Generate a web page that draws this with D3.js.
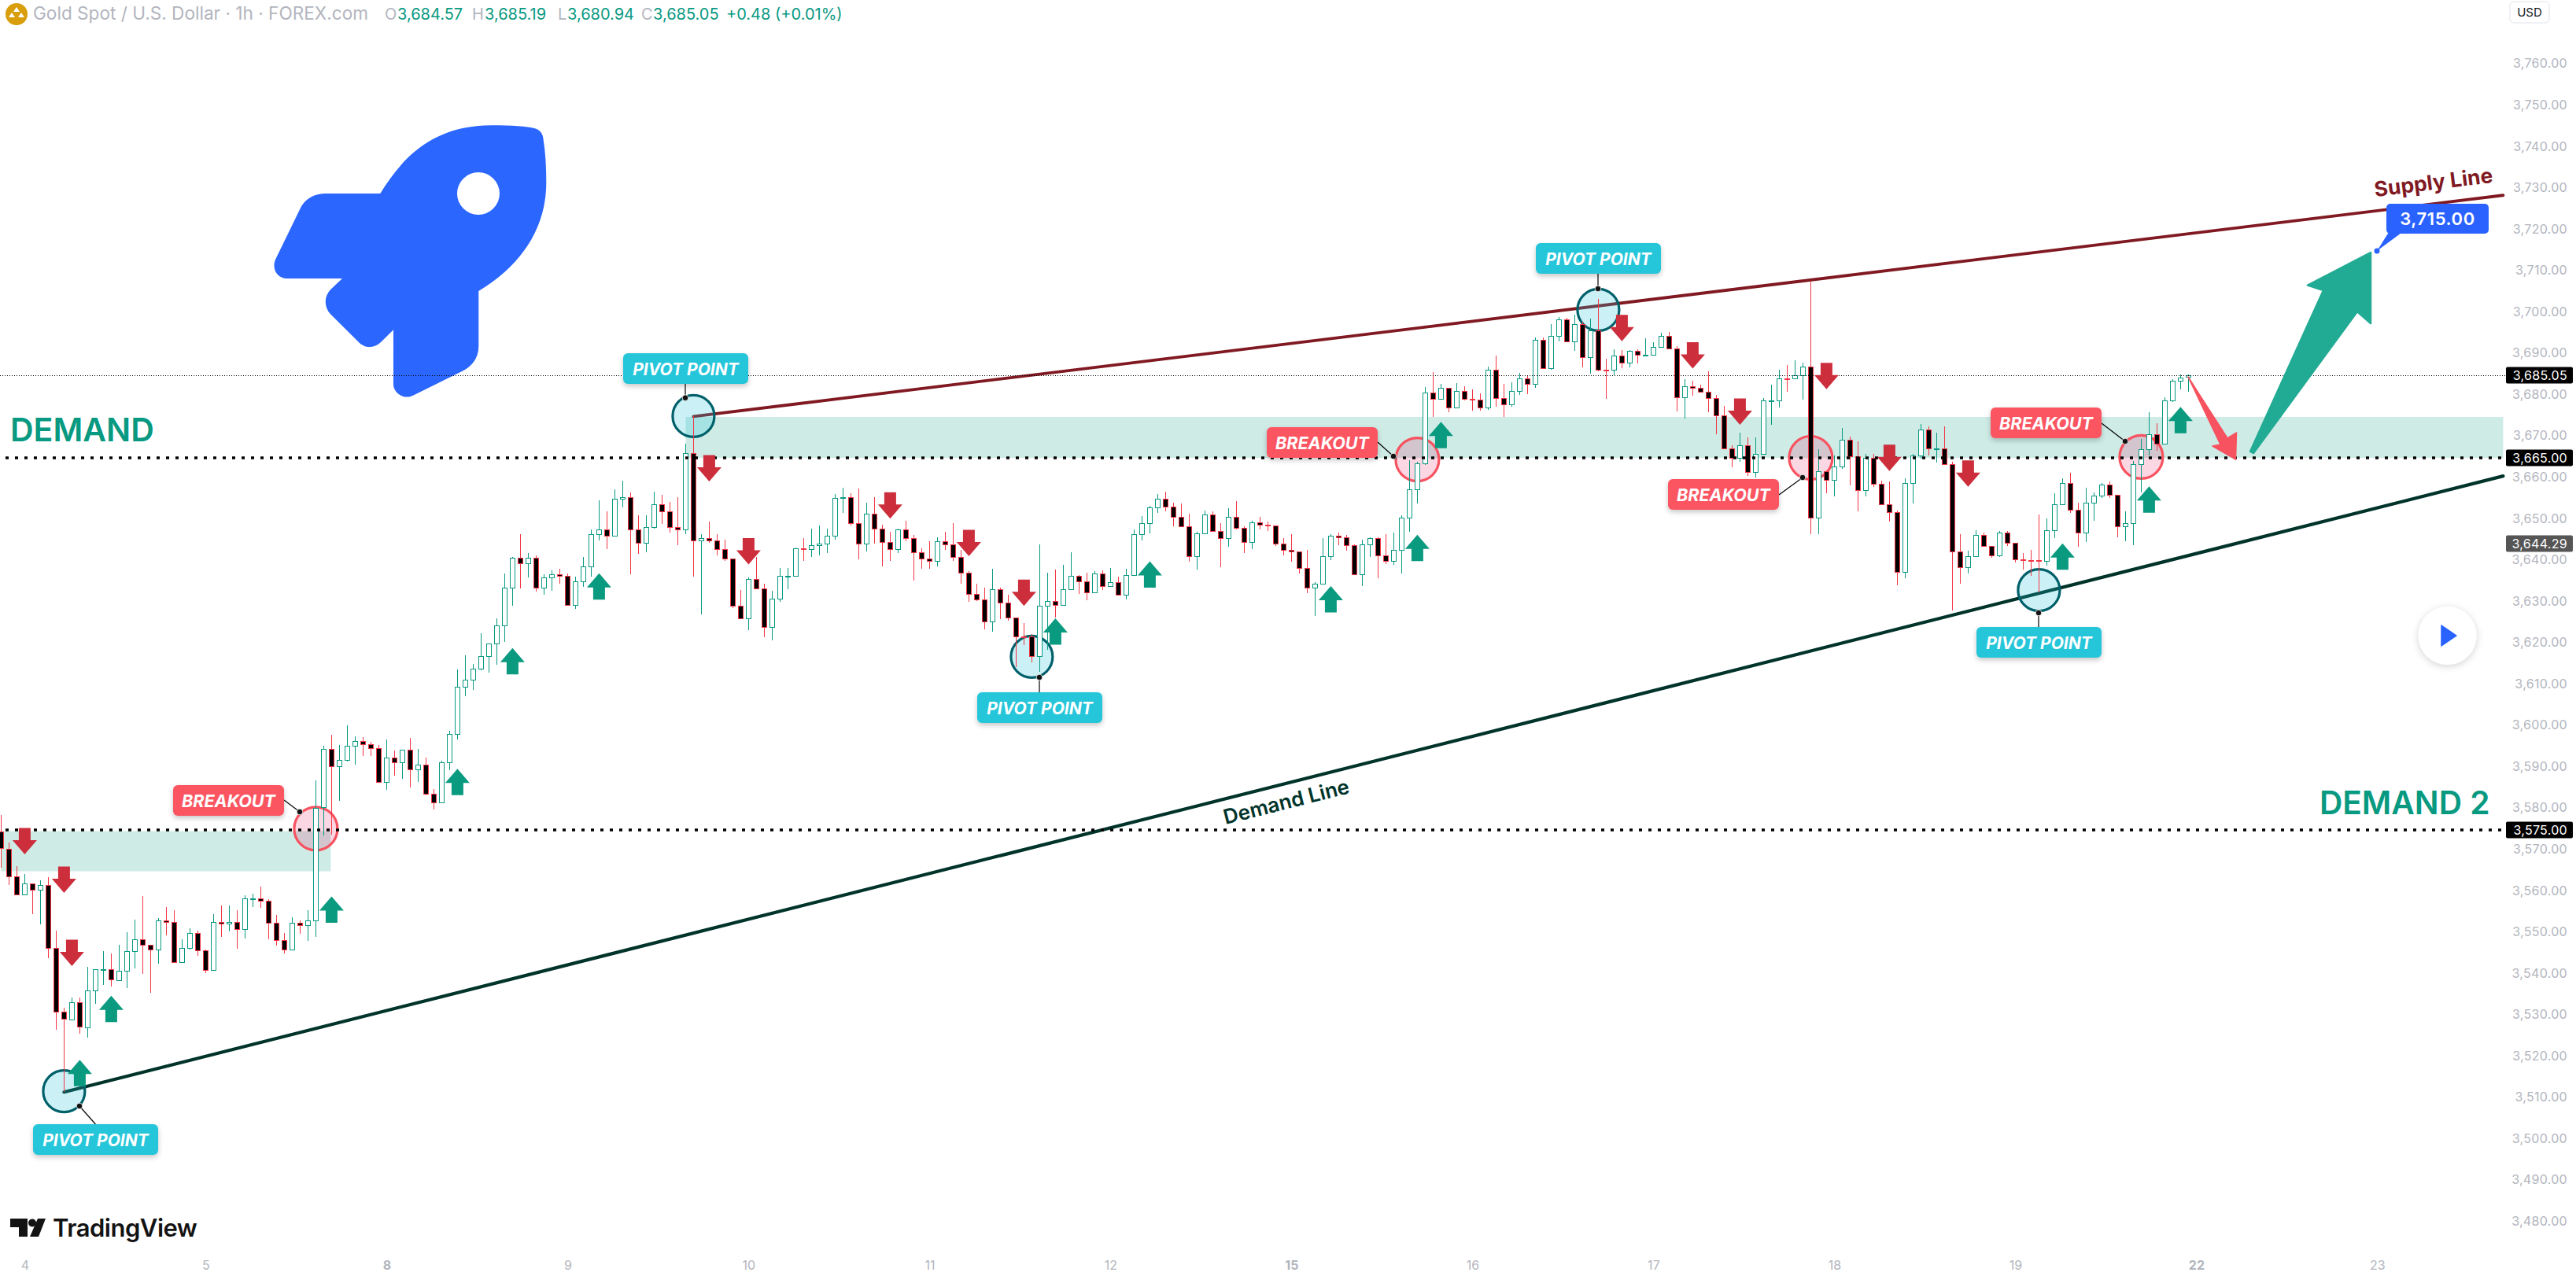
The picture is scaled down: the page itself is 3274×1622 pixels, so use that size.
<!DOCTYPE html>
<html><head><meta charset="utf-8">
<style>html,body{margin:0;padding:0;background:#fff;overflow:hidden}svg{display:block;font-family:Inter,"Noto Sans",sans-serif}</style>
<script src="https://cdn.jsdelivr.net/npm/d3@7"></script></head>
<body><svg id="c" width="3274" height="1622"></svg>
<script>
const opens=[3574.6,3570.5,3563.7,3559.4,3562.0,3560.5,3561.6,3546.4,3531.0,3529.2,
3533.3,3527.3,3536.2,3541.2,3541.3,3538.7,3540.9,3545.7,3548.5,3547.2,
3546.1,3553.1,3552.7,3543.0,3546.4,3550.0,3545.9,3541.1,3552.7,3552.3,
3552.7,3551.0,3558.4,3558.5,3557.8,3552.5,3548.3,3546.1,3552.5,3551.9,
3553.2,3580.5,3594.6,3590.4,3592.0,3595.3,3596.5,3595.7,3594.8,3586.6,
3592.5,3591.3,3594.4,3589.6,3590.8,3583.7,3581.6,3591.3,3598.2,3609.6,
3611.3,3614.0,3617.0,3620.1,3624.4,3633.6,3640.8,3639.5,3640.8,3633.6,
3636.0,3636.8,3636.4,3629.5,3635.1,3638.7,3646.5,3647.6,3646.1,3655.1,
3655.4,3647.6,3644.4,3648.2,3653.7,3652.0,3648.2,3647.6,3666.1,3645.1,
3645.6,3645.1,3642.9,3640.6,3629.3,3626.2,3635.7,3633.5,3624.0,3630.9,
3636.4,3636.5,3643.1,3643.0,3643.8,3644.2,3646.1,3655.2,3655.4,3649.3,
3644.2,3651.4,3647.8,3644.6,3642.9,3647.6,3645.5,3642.1,3640.6,3640.0,
3644.9,3644.0,3641.0,3637.3,3632.0,3630.7,3625.4,3633.3,3629.9,3626.3,
3621.9,3621.9,3617.0,3629.2,3630.3,3629.5,3633.2,3636.4,3635.2,3632.4,
3637.1,3634.0,3634.9,3631.8,3636.6,3646.5,3649.2,3653.0,3655.1,3653.2,
3650.7,3648.4,3641.2,3646.7,3651.3,3647.3,3645.6,3650.7,3648.0,3644.6,
3649.4,3648.8,3648.6,3644.2,3642.7,3642.3,3638.3,3633.6,3634.5,3641.2,
3646.1,3645.7,3643.8,3636.8,3644.0,3645.6,3641.4,3640.0,3642.7,3650.5,
3657.3,3663.6,3680.7,3679.2,3681.9,3677.1,3681.1,3679.2,3679.0,3677.1,
3686.4,3679.4,3677.9,3681.1,3684.3,3682.8,3693.5,3686.6,3694.4,3698.4,
3693.2,3697.3,3689.3,3695.8,3686.4,3686.4,3689.7,3688.0,3690.8,3689.8,
3689.9,3691.9,3694.4,3691.4,3679.6,3682.3,3681.9,3680.9,3679.4,3675.2,
3667.2,3665.0,3668.0,3661.5,3666.0,3678.8,3678.9,3684.3,3684.3,3684.9,
3687.0,3650.5,3661.7,3659.6,3663.0,3669.3,3665.3,3657.2,3665.0,3658.7,
3653.7,3651.8,3637.5,3659.0,3665.5,3671.8,3667.1,3667.2,3663.4,3642.3,
3638.5,3641.3,3646.4,3643.6,3641.5,3646.9,3644.4,3640.4,3640.2,3640.2,
3640.0,3647.4,3653.7,3659.0,3652.5,3647.0,3654.1,3655.8,3658.6,3656.0,
3648.4,3649.3,3663.4,3667.0,3670.8,3668.4,3678.8,3683.7,3684.57];
const highs=[3578.7,3571.9,3566.3,3564.4,3562.0,3562.8,3563.6,3550.7,3532.0,3534.5,
3534.5,3541.9,3541.3,3545.7,3545.1,3547.2,3550.2,3553.4,3559.1,3547.2,
3553.6,3556.4,3555.6,3548.5,3551.2,3550.7,3546.1,3554.6,3556.8,3556.8,
3555.6,3559.2,3559.5,3561.3,3558.3,3554.5,3550.1,3553.9,3553.2,3555.5,
3587.0,3595.3,3598.1,3595.6,3600.3,3597.7,3597.5,3596.3,3595.6,3596.9,
3594.3,3594.4,3597.3,3594.6,3592.5,3584.9,3591.7,3598.9,3613.9,3617.3,
3615.2,3622.6,3620.1,3626.2,3637.1,3641.0,3646.6,3642.0,3641.4,3636.9,
3637.8,3638.2,3637.1,3636.3,3641.1,3647.7,3654.8,3652.1,3657.4,3659.5,
3656.7,3651.1,3651.1,3656.8,3656.1,3654.4,3655.5,3668.4,3675.0,3646.5,
3649.6,3646.5,3645.2,3640.6,3633.0,3636.1,3641.0,3634.5,3632.8,3638.4,
3638.4,3643.3,3645.6,3647.9,3648.6,3647.9,3656.2,3657.8,3656.4,3657.6,
3654.1,3655.5,3648.8,3647.1,3647.8,3649.8,3646.3,3643.1,3644.8,3645.8,
3647.2,3649.2,3642.7,3637.6,3634.5,3633.6,3638.1,3633.6,3631.9,3626.3,
3625.0,3622.4,3644.1,3637.2,3638.0,3639.1,3642.2,3636.6,3637.2,3637.6,
3637.8,3638.4,3636.3,3638.1,3647.6,3650.9,3653.4,3656.3,3656.8,3654.1,
3653.9,3651.5,3647.1,3652.3,3652.0,3649.2,3652.8,3654.6,3648.4,3649.8,
3650.8,3649.6,3648.6,3645.6,3646.6,3642.3,3642.8,3635.0,3645.6,3646.6,
3647.0,3646.4,3644.0,3645.2,3645.8,3645.8,3646.6,3647.0,3651.1,3664.4,
3664.0,3682.1,3685.7,3682.9,3682.0,3683.1,3682.3,3681.5,3680.6,3687.1,
3689.7,3682.9,3683.2,3685.5,3684.7,3694.2,3694.2,3697.3,3699.0,3698.8,
3699.6,3698.0,3698.7,3703.4,3689.0,3691.2,3691.0,3691.0,3691.2,3693.9,
3693.0,3695.2,3695.4,3692.1,3684.0,3683.7,3682.7,3686.0,3680.2,3677.6,
3668.0,3671.0,3670.0,3670.0,3679.5,3682.7,3686.3,3687.5,3688.6,3688.0,
3707.8,3667.1,3661.7,3665.6,3672.2,3670.2,3669.0,3666.0,3666.0,3659.5,
3659.3,3652.2,3660.0,3665.9,3673.1,3672.6,3671.1,3672.6,3664.1,3646.5,
3642.5,3647.5,3646.9,3643.6,3647.3,3647.3,3644.4,3641.9,3642.8,3651.3,
3650.3,3656.4,3660.0,3661.3,3654.2,3657.7,3656.7,3659.0,3659.2,3656.0,
3652.0,3664.3,3669.5,3676.0,3673.3,3679.6,3684.0,3685.1,3685.19];
const lows=[3565.8,3561.6,3559.2,3559.4,3554.6,3552.2,3544.0,3526.7,3511.6,3529.0,
3525.8,3524.7,3533.0,3537.6,3537.1,3538.5,3536.8,3541.6,3540.1,3535.6,
3542.6,3549.6,3543.0,3543.0,3546.1,3544.6,3540.4,3541.1,3549.1,3550.4,
3546.3,3548.8,3556.4,3556.1,3548.6,3547.0,3545.2,3546.1,3549.8,3548.1,
3549.1,3573.6,3573.8,3582.1,3591.5,3590.7,3592.8,3592.9,3586.6,3584.8,
3588.2,3587.3,3585.2,3586.7,3583.3,3579.9,3581.4,3589.5,3596.8,3607.4,
3608.9,3613.7,3613.1,3615.0,3620.5,3629.3,3633.4,3636.1,3632.7,3631.9,
3632.9,3634.6,3629.3,3628.5,3633.8,3636.3,3645.0,3643.0,3646.1,3653.0,
3636.9,3641.8,3642.2,3647.9,3649.0,3647.0,3643.9,3646.5,3636.3,3627.1,
3644.5,3641.4,3640.1,3628.7,3626.2,3623.4,3633.5,3621.6,3620.8,3630.2,
3633.2,3636.5,3640.1,3641.0,3641.4,3642.0,3645.2,3651.7,3648.6,3640.4,
3642.3,3644.2,3638.7,3640.1,3642.0,3644.8,3635.3,3638.1,3638.1,3638.7,
3642.7,3640.1,3634.5,3630.2,3630.3,3623.5,3622.9,3625.9,3625.7,3614.3,
3619.8,3615.5,3613.2,3618.6,3626.3,3629.5,3633.2,3632.1,3630.6,3632.4,
3633.0,3634.0,3631.8,3630.7,3636.6,3645.0,3646.8,3651.7,3652.1,3648.5,
3648.2,3639.9,3638.0,3646.7,3647.3,3638.6,3643.5,3647.6,3642.0,3643.0,
3647.7,3647.3,3643.7,3641.4,3639.9,3637.1,3632.3,3626.8,3634.5,3640.3,
3643.9,3642.6,3636.8,3634.0,3641.1,3635.9,3639.3,3639.2,3637.0,3647.1,
3654.0,3663.3,3674.9,3679.0,3676.1,3676.9,3678.8,3676.5,3676.5,3676.7,
3677.3,3674.9,3677.3,3680.3,3680.4,3682.0,3686.6,3686.4,3693.2,3693.0,
3690.8,3686.8,3685.4,3686.0,3679.2,3684.9,3686.6,3686.8,3687.8,3689.8,
3689.8,3691.9,3691.4,3676.3,3674.6,3680.0,3680.7,3676.0,3670.8,3667.2,
3662.7,3664.1,3660.7,3660.3,3665.8,3673.0,3677.2,3681.0,3684.3,3679.0,
3646.5,3646.5,3656.5,3655.6,3662.3,3658.4,3652.1,3655.7,3657.9,3653.7,
3649.6,3634.2,3635.9,3654.0,3664.8,3665.5,3663.8,3663.2,3628.1,3634.6,
3637.1,3641.1,3643.6,3640.8,3641.1,3643.7,3639.7,3638.0,3636.5,3632.4,
3639.0,3645.6,3653.7,3651.6,3643.5,3644.6,3649.7,3655.3,3655.3,3645.8,
3644.8,3643.9,3656.7,3665.5,3666.8,3668.4,3678.5,3681.5,3680.94];
const closes=[3570.7,3563.8,3559.4,3562.1,3560.5,3561.6,3546.4,3531.0,3529.3,3533.3,
3527.4,3536.2,3541.3,3541.3,3538.8,3540.9,3545.7,3548.5,3547.2,3546.1,
3553.1,3552.7,3543.0,3546.4,3550.0,3545.9,3541.1,3552.7,3552.3,3552.7,
3551.0,3558.4,3558.5,3557.9,3552.5,3548.3,3546.1,3552.5,3551.9,3553.2,
3580.4,3594.6,3590.4,3592.0,3595.3,3596.5,3595.7,3594.8,3586.6,3592.5,
3591.3,3594.4,3589.6,3590.8,3583.7,3581.6,3591.3,3598.2,3609.6,3611.3,
3614.0,3617.0,3620.1,3624.4,3633.6,3640.8,3639.5,3640.8,3633.6,3636.0,
3636.8,3636.4,3629.5,3635.1,3638.7,3646.5,3647.6,3646.1,3655.1,3655.4,
3647.6,3644.4,3648.2,3653.7,3652.0,3648.2,3647.6,3666.1,3645.1,3645.6,
3645.1,3642.9,3640.6,3629.3,3626.2,3635.7,3633.5,3624.0,3630.9,3636.4,
3636.5,3643.1,3643.0,3643.8,3644.2,3646.1,3655.2,3655.4,3649.3,3644.2,
3651.4,3647.8,3644.6,3642.9,3647.6,3645.5,3642.1,3640.6,3640.0,3644.9,
3644.0,3641.0,3637.3,3632.0,3630.7,3625.4,3633.3,3629.9,3626.3,3621.9,
3621.8,3617.0,3629.2,3630.3,3629.5,3633.2,3636.4,3635.2,3632.4,3637.1,
3634.0,3634.9,3631.8,3636.6,3646.5,3649.2,3653.0,3655.1,3653.2,3650.7,
3648.4,3641.2,3646.7,3651.3,3647.3,3645.6,3650.7,3648.0,3644.6,3649.4,
3648.8,3648.6,3644.2,3642.7,3642.3,3638.3,3633.6,3634.5,3641.2,3646.1,
3645.7,3643.8,3636.8,3644.0,3645.6,3641.4,3640.0,3642.7,3650.5,3657.3,
3663.6,3680.7,3679.2,3681.9,3677.1,3681.1,3679.2,3679.0,3677.1,3686.4,
3679.4,3677.9,3681.1,3684.3,3682.8,3693.5,3686.6,3694.4,3698.4,3693.2,
3697.3,3689.3,3695.8,3686.4,3686.3,3689.7,3688.0,3690.8,3689.9,3689.9,
3691.9,3694.4,3691.4,3679.6,3682.3,3681.9,3680.9,3679.4,3675.2,3667.2,
3665.0,3668.0,3661.5,3666.0,3678.8,3678.9,3684.3,3684.2,3684.9,3687.0,
3650.5,3661.7,3659.6,3663.0,3669.3,3665.3,3657.2,3665.0,3658.7,3653.7,
3651.8,3637.5,3659.0,3665.5,3671.8,3667.2,3667.2,3663.4,3642.3,3638.5,
3641.3,3646.4,3643.6,3641.5,3646.9,3644.4,3640.4,3640.3,3640.1,3640.0,
3647.4,3653.7,3659.0,3652.5,3647.0,3654.1,3655.8,3658.6,3656.0,3648.4,
3649.3,3663.4,3667.0,3670.8,3668.4,3678.8,3683.7,3684.4,3685.05];

const priceTicks=[3760,3750,3740,3730,3720,3710,3700,3690,3680,3670,3660,3650,3640,3630,3620,3610,3600,3590,3580,3570,3560,3550,3540,3530,3520,3510,3500,3490,3480];
const dayLabels=["4","5","8","9","10","11","12","15","16","17","18","19","22","23"];
const dayBars=[3,26,49,72,95,118,141,164,187,210,233,256,279,302];
const boldDays=["8","15","22"];
const upArrowBars=[10,14,42,58,65,76,134,146,169,180,183,262,273,277];
const upArrowTips=[3519.4,3534.9,3558.9,3589.8,3619,3637.1,3626.2,3640,3634,3646.4,3673.7,3644.3,3658.1,3677.3];
const downArrowBars=[3,8,9,90,95,113,123,130,206,215,221,232,240,250];
const downArrowTips=[3569.1,3559.8,3542.1,3659.3,3639.2,3650.3,3641.2,3629.2,3693.2,3686.6,3673,3681.6,3661.8,3658];
const pivotBars=[8,88,131,203,259];
const pivotPrices=[3511.8,3675.1,3616.9,3700.8,3633];
const breakoutBars=[40,180,230,272];
const breakoutPrices=[3575.3,3664.6,3665,3665.2];
const zoneBars=[[0,41.9],[87,318]];
const zonePrices=[[3574.7,3565],[3674.9,3665]];
const levelPrices=[3665,3575];
const lastPrice=3685.05, prevPrice=3644.29, targetPrice=3715;
const supplyBars=[88,318], supplyPrices=[3675,3728.5];
const demandBars=[8,318], demandPrices=[3511.6,3660.6];

const UP="#089981",DOWN="#F23645",GREY="#B2B5BE",RED="#F7525F",CYAN="#26C6DA";
const svg=d3.select("#c");
const x=d3.scaleLinear().domain([0,278]).range([1.4,2781.4]);
const y=d3.scaleLinear().domain([3760,3480]).range([82.7,1554.3]);
const defs=svg.append("defs");
const f=defs.append("filter").attr("id","sh").attr("x","-30%").attr("y","-30%").attr("width","160%").attr("height","180%");
f.append("feDropShadow").attr("dx",0).attr("dy",3).attr("stdDeviation",3).attr("flood-color","#000").attr("flood-opacity",.22);
const f2=defs.append("filter").attr("id","sh2").attr("x","-40%").attr("y","-40%").attr("width","180%").attr("height","180%");
f2.append("feDropShadow").attr("dx",0).attr("dy",2).attr("stdDeviation",5).attr("flood-color","#000").attr("flood-opacity",.18);

// zones
svg.append("g").selectAll("rect").data(zoneBars).join("rect")
 .attr("x",d=>x(d[0])).attr("width",d=>x(d[1])-x(d[0]))
 .attr("y",(d,i)=>y(zonePrices[i][0])).attr("height",(d,i)=>y(zonePrices[i][1])-y(zonePrices[i][0]))
 .attr("fill","#089981").attr("fill-opacity",.2);

// rocket
const rocket=svg.append("g").attr("transform","translate(300,130) scale(0.3333)");
rocket.append("path").attr("fill","#2B66FF").attr("d","M550,348C640,200 760,88 975,88C1050,88 1110,92 1140,100C1158,105 1168,118 1171,135C1180,190 1183,250 1183,305C1183,480 1090,620 925,720L925,930C925,975 900,1008 860,1027L675,1118C640,1135 600,1110 600,1075L600,868L552,915C525,940 490,940 465,912L360,808C335,780 335,742 360,715L405,672L195,672C158,672 135,636 150,600L245,405C262,368 300,348 340,348Z");
rocket.append("circle").attr("cx",924).attr("cy",348).attr("r",81).attr("fill","#fff");

// trend lines
const lineGen=d3.line().x(d=>x(d[0])).y(d=>y(d[1]));
svg.append("path").attr("d",lineGen(supplyBars.map((b,i)=>[b,supplyPrices[i]]))).attr("stroke","#801922").attr("stroke-width",3.8).attr("fill","none").attr("stroke-linecap","round");
svg.append("path").attr("d",lineGen(demandBars.map((b,i)=>[b,demandPrices[i]]))).attr("stroke","#00332A").attr("stroke-width",4.2).attr("fill","none").attr("stroke-linecap","round");

// circles
svg.append("g").selectAll("circle").data(pivotBars).join("circle")
 .attr("cx",d=>x(d)).attr("cy",(d,i)=>y(pivotPrices[i])).attr("r",26.5)
 .attr("fill","#26C6DA").attr("fill-opacity",.24).attr("stroke","#00606A").attr("stroke-width",3.2);
svg.append("g").selectAll("circle").data(breakoutBars).join("circle")
 .attr("cx",d=>x(d)).attr("cy",(d,i)=>y(breakoutPrices[i])).attr("r",27.5)
 .attr("fill","#E91E63").attr("fill-opacity",.18).attr("stroke",RED).attr("stroke-width",3.2);

// candles
const idx=d3.range(opens.length);
const cx=i=>Math.round(x(i)-.5)+.5;
const sy=v=>Math.round(y(v));
const candles=svg.append("g");
candles.selectAll("line").data(idx).join("line")
 .attr("x1",cx).attr("x2",cx).attr("y1",i=>y(highs[i])).attr("y2",i=>y(lows[i]))
 .attr("stroke",i=>closes[i]>=opens[i]?UP:DOWN).attr("stroke-width",1).attr("shape-rendering","crispEdges");
candles.selectAll("rect").data(idx).join("rect")
 .attr("x",i=>cx(i)-3).attr("width",6)
 .attr("y",i=>sy(Math.max(opens[i],closes[i]))+.5)
 .attr("height",i=>Math.max(1,sy(Math.min(opens[i],closes[i]))-sy(Math.max(opens[i],closes[i]))))
 .attr("fill",i=>closes[i]>=opens[i]?"#fff":"#000")
 .attr("stroke",i=>closes[i]>=opens[i]?UP:DOWN).attr("stroke-width",1).attr("shape-rendering","crispEdges");

// price lines
svg.append("g").selectAll("line").data(levelPrices).join("line")
 .attr("x1",7).attr("x2",3181).attr("y1",d=>y(d)).attr("y2",d=>y(d))
 .attr("stroke","#000").attr("stroke-width",3.6).attr("stroke-dasharray","4 8");
svg.append("line").attr("x1",0).attr("x2",3185).attr("y1",Math.round(y(lastPrice))+.5).attr("y2",Math.round(y(lastPrice))+.5)
 .attr("stroke","#000").attr("stroke-width",1).attr("stroke-dasharray","1 2");

// small arrows
function upPath(bar,tip){const X=x(bar),Y=y(tip);return `M${X},${Y}L${X+15.5},${Y+18}H${X+7.5}V${Y+33.5}H${X-7.5}V${Y+18}H${X-15.5}Z`;}
function downPath(bar,tip){const X=x(bar),Y=y(tip);return `M${X},${Y}L${X+15.5},${Y-18}H${X+7.5}V${Y-33.5}H${X-7.5}V${Y-18}H${X-15.5}Z`;}
svg.append("g").selectAll("path").data(upArrowBars).join("path").attr("d",(d,i)=>upPath(d,upArrowTips[i])).attr("fill","#0A9A80");
svg.append("g").selectAll("path").data(downArrowBars).join("path").attr("d",(d,i)=>downPath(d,downArrowTips[i])).attr("fill","#CC2E3C");

// big forecast arrows
svg.append("path").attr("d","M2781,479L2831,557L2842.5,550L2841.5,584L2812,567L2822,565Z").attr("fill",RED).attr("stroke",RED).attr("stroke-width",1.5).attr("stroke-linejoin","round");
svg.append("path").attr("d","M2860,574L2953,369L2933,362.5L3013,321L3013,411L2996,396L2864,576Z").attr("fill","#22AB94").attr("stroke","#22AB94").attr("stroke-width",2.5).attr("stroke-linejoin","round");

// callouts
const callouts=[
 {t:"PIVOT POINT",c:CYAN,x0:42,y0:1429,x1:201,y1:1468,dot:[101,1406],from:[121.4,1429]},
 {t:"PIVOT POINT",c:CYAN,x0:792,y0:449,x1:951,y1:488,dot:[871,505.7],from:[871,488]},
 {t:"PIVOT POINT",c:CYAN,x0:1242,y0:880,x1:1401,y1:919,dot:[1321,861],from:[1321,880]},
 {t:"PIVOT POINT",c:CYAN,x0:1952,y0:309,x1:2111,y1:348,dot:[2031,367],from:[2031,348]},
 {t:"PIVOT POINT",c:CYAN,x0:2512,y0:797,x1:2671,y1:836,dot:[2591,779],from:[2591,797]},
 {t:"BREAKOUT",c:"#FB5562",x0:220,y0:998,x1:361,y1:1037,dot:[381,1032],from:[361,1017]},
 {t:"BREAKOUT",c:"#FB5562",x0:1610,y0:543,x1:1751,y1:582,dot:[1771,580],from:[1751,562]},
 {t:"BREAKOUT",c:"#FB5562",x0:2120,y0:609,x1:2261,y1:648,dot:[2291,607],from:[2261,629]},
 {t:"BREAKOUT",c:"#FB5562",x0:2530,y0:518,x1:2671,y1:557,dot:[2701,561],from:[2671,538]}];
const cg=svg.append("g");
callouts.forEach(k=>{
 cg.append("line").attr("x1",k.from[0]).attr("y1",k.from[1]).attr("x2",k.dot[0]).attr("y2",k.dot[1]).attr("stroke","#000").attr("stroke-width",1.2);
 cg.append("circle").attr("cx",k.dot[0]).attr("cy",k.dot[1]).attr("r",3.8).attr("fill","#111").attr("stroke","#fff").attr("stroke-width",.8);
 cg.append("rect").attr("x",k.x0).attr("y",k.y0).attr("width",k.x1-k.x0).attr("height",k.y1-k.y0).attr("rx",6).attr("fill",k.c).attr("filter","url(#sh)");
 cg.append("text").attr("x",(k.x0+k.x1)/2).attr("y",(k.y0+k.y1)/2+8).attr("text-anchor","middle").attr("fill","#fff").attr("font-size",k.t==="BREAKOUT"?21.5:21).attr("font-weight",700).attr("font-style","italic").text(k.t);
});

// target label
const tg=svg.append("g");
tg.append("path").attr("d","M3021,319L3035.5,296H3052Z").attr("fill","#2962FF");
tg.append("circle").attr("cx",3021).attr("cy",319).attr("r",3.5).attr("fill","#2962FF");
tg.append("rect").attr("x",3033).attr("y",259).attr("width",130).attr("height",38).attr("rx",5).attr("fill","#2962FF");
tg.append("text").attr("x",3098).attr("y",286).attr("text-anchor","middle").attr("fill","#fff").attr("font-size",22).attr("font-weight",600).attr("letter-spacing",".6").text(d3.format(",.2f")(targetPrice));

// big words
svg.append("text").attr("x",13).attr("y",561).attr("fill",UP).attr("font-size",41).attr("font-weight",600).text("DEMAND");
svg.append("text").attr("x",2948).attr("y",1035).attr("fill",UP).attr("font-size",40.6).attr("font-weight",600).text("DEMAND 2");
svg.append("text").attr("transform","translate(3094,241) rotate(-7)").attr("text-anchor","middle").attr("fill","#801922").attr("font-size",26.5).attr("font-weight",700).text("Supply Line");
svg.append("text").attr("transform","translate(1637,1028) rotate(-14.2)").attr("text-anchor","middle").attr("fill","#00332A").attr("font-size",26).attr("font-weight",600).text("Demand Line");

// axes
const yAxis=d3.axisRight(y).tickValues(priceTicks).tickFormat(d3.format(",.2f")).tickSize(0).tickPadding(0);
const ya=svg.append("g").attr("transform","translate(3263,0)").call(yAxis);
ya.select(".domain").remove();
ya.selectAll("text").attr("text-anchor","end").attr("fill",GREY).attr("font-size",16).attr("font-family","Inter").attr("dy","0.2em").attr("letter-spacing",".3");
const xAxis=d3.axisBottom(x).tickValues(dayBars).tickFormat((d,i)=>dayLabels[i]).tickSize(0).tickPadding(0);
const xa=svg.append("g").attr("transform","translate(0,1602)").call(xAxis);
xa.select(".domain").remove();
xa.selectAll("text").attr("fill",GREY).attr("font-size",16).attr("font-family","Inter").attr("y",0).attr("dy","0.72em")
 .attr("font-weight",(d,i)=>boldDays.includes(dayLabels[i])?700:400);

// price badges
const badges=[[lastPrice,"#000"],[levelPrices[0],"#000"],[prevPrice,"#555"],[levelPrices[1],"#000"]];
const bg=svg.append("g");
badges.forEach(([p,col])=>{
 bg.append("rect").attr("x",3185).attr("y",Math.round(y(p))-10.5).attr("width",85).attr("height",21).attr("rx",2).attr("fill",col);
 bg.append("text").attr("x",3263).attr("y",y(p)+6).attr("text-anchor","end").attr("fill","#fff").attr("font-size",16).attr("letter-spacing",".3").text(d3.format(",.2f")(p));
});

// header
const hg=svg.append("g").attr("font-size",20);
hg.append("circle").attr("cx",21).attr("cy",18).attr("r",14).attr("fill","#D99E0B");
hg.append("path").attr("d","M21,9L25,15H17ZM15,16L19,22H11ZM27,16L31,22H23Z").attr("fill","#fff");
hg.append("text").attr("x",42).attr("y",25).attr("font-size",22.6).attr("fill",GREY).text("Gold Spot / U.S. Dollar · 1h · FOREX.com");
const hdrLetters=["O","H","L","C"],hdrLetterX=[489,600,709,815],hdrValues=["3,684.57","3,685.19","3,680.94","3,685.05"],hdrValueX=[505,616,721,830];
hdrLetters.forEach((t,i)=>{
 hg.append("text").attr("x",hdrLetterX[i]).attr("y",25).attr("fill",GREY).text(t);
 hg.append("text").attr("x",hdrValueX[i]).attr("y",25).attr("fill",UP).text(hdrValues[i]);
});
hg.append("text").attr("x",923).attr("y",25).attr("fill",UP).text("+0.48 (+0.01%)");

// USD
svg.append("rect").attr("x",3190).attr("y",2).attr("width",50).attr("height",27).attr("rx",5).attr("fill","#fff").attr("stroke","#E0E3EB");
svg.append("text").attr("x",3215).attr("y",21).attr("text-anchor","middle").attr("fill","#131722").attr("font-size",15).text("USD");

// play
svg.append("circle").attr("cx",3110.6).attr("cy",808).attr("r",37).attr("fill","#fff").attr("filter","url(#sh2)");
svg.append("path").attr("d","M3103,795L3122,808L3103,821Z").attr("fill","#2962FF").attr("stroke","#2962FF").attr("stroke-width",1.5).attr("stroke-linejoin","round");

// logo
const lg=svg.append("g").attr("fill","#131313");
lg.append("path").attr("d","M13,1549H35V1572H24V1560H13Z");
lg.append("circle").attr("cx",41).attr("cy",1554.5).attr("r",5);
lg.append("path").attr("d","M48,1549H58L49,1572H38Z");
lg.append("text").attr("x",67).attr("y",1572).attr("font-size",31).attr("font-weight",600).attr("letter-spacing","-.5").text("TradingView");
</script></body></html>
